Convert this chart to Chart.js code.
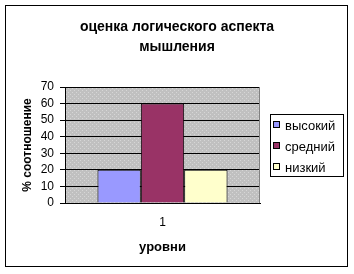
<!DOCTYPE html>
<html>
<head>
<meta charset="utf-8">
<script src="https://cdn.jsdelivr.net/npm/chart.js@4"></script>
<style>
  html, body { margin: 0; padding: 0; background: #fff; }
  #wrap { width: 354px; height: 274px; }
</style>
</head>
<body>
<div id="wrap"><canvas id="chart" width="354" height="274"></canvas></div>
<script>
// Chart data
const categories = ['1'];
const seriesNames = ['высокий', 'средний', 'низкий'];
const seriesValues = [[20], [60], [20]];
const seriesColors = ['#9999FF', '#993366', '#FFFFCC'];
const titleLines = ['оценка логического аспекта', 'мышления'];
const yTitle = '% соотношение';
const xTitle = 'уровни';

const FONT = 'Arial, "Liberation Sans", sans-serif';

// grey speckled plot background like the old office charts
function makePattern(ctx) {
    const c = document.createElement('canvas');
    c.width = 4; c.height = 4;
    const p = c.getContext('2d');
    p.fillStyle = '#c0c0c0';
    p.fillRect(0, 0, 4, 4);
    p.fillStyle = '#d6d6d6';
    p.fillRect(0, 0, 1, 1);
    p.fillRect(2, 2, 1, 1);
    return ctx.createPattern(c, 'repeat');
}

const framePlugin = {
    id: 'frame',
    beforeDraw(chart) {
        const ctx = chart.ctx;
        const a = chart.chartArea;
        ctx.save();
        ctx.fillStyle = '#fff';
        ctx.fillRect(0, 0, chart.width, chart.height);
        ctx.strokeStyle = '#000';
        ctx.lineWidth = 1;
        ctx.strokeRect(5.5, 5.5, 342, 261);
        ctx.fillStyle = makePattern(ctx);
        ctx.fillRect(a.left, a.top, a.right - a.left, a.bottom - a.top);
        ctx.restore();
    },
    afterDraw(chart) {
        const ctx = chart.ctx;
        const a = chart.chartArea;
        ctx.save();
        // plot border on the right
        ctx.strokeStyle = '#808080';
        ctx.lineWidth = 1;
        ctx.beginPath();
        ctx.moveTo(Math.round(a.right) - 0.5, a.top);
        ctx.lineTo(Math.round(a.right) - 0.5, a.bottom);
        ctx.stroke();

        // legend box
        const lx = 270, ly = 114, lw = 73, lh = 62;
        ctx.strokeStyle = '#000';
        ctx.strokeRect(lx + 0.5, ly + 0.5, lw, lh);
        ctx.font = '13px ' + FONT;
        ctx.textBaseline = 'middle';
        ctx.textAlign = 'left';
        chart.data.datasets.forEach((ds, i) => {
            const cy = 125 + i * 21;
            ctx.fillStyle = ds.backgroundColor;
            ctx.fillRect(lx + 3, cy - 4, 7, 7);
            ctx.strokeStyle = '#000';
            ctx.strokeRect(lx + 3.5, cy - 3.5, 6, 6);
            ctx.fillStyle = '#000';
            ctx.fillText(ds.label, lx + 15, cy + 1);
        });
        ctx.restore();
    }
};

const datasets = seriesNames.map((name, i) => ({
    label: name,
    data: seriesValues[i],
    backgroundColor: seriesColors[i],
    borderColor: '#000',
    borderWidth: 1,
    borderSkipped: 'bottom',
    categoryPercentage: 0.667,
    barPercentage: 1
}));

new Chart(document.getElementById('chart').getContext('2d'), {
    type: 'bar',
    data: { labels: categories, datasets: datasets },
    plugins: [framePlugin],
    options: {
        responsive: false,
        animation: false,
        devicePixelRatio: 1,
        layout: { padding: { left: 0, right: 0, top: 0, bottom: 19 } },
        plugins: {
            legend: { display: false },
            tooltip: { enabled: false },
            title: {
                display: true,
                text: titleLines,
                color: '#000',
                font: { family: FONT, size: 14, weight: 'bold', lineHeight: 1.43 },
                padding: { top: 17, bottom: 30 }
            }
        },
        scales: {
            x: {
                grid: { display: false, drawTicks: false },
                border: { display: true, color: '#000', width: 1 },
                ticks: { color: '#000', padding: 12, font: { family: FONT, size: 12 } },
                title: {
                    display: true,
                    text: xTitle,
                    color: '#000',
                    font: { family: FONT, size: 13, weight: 'bold' },
                    padding: { top: 4, bottom: 0 }
                },
                afterFit(scale) { scale.height = 274 - 203 - 19; }
            },
            y: {
                min: 0,
                max: 70,
                ticks: { stepSize: 10, autoSkip: false, color: '#000', padding: 6, font: { family: FONT, size: 12 } },
                grid: { color: '#000', lineWidth: 1, tickLength: 5, drawTicks: true },
                border: { display: true, color: '#000', width: 1 },
                title: {
                    display: true,
                    text: yTitle,
                    color: '#000',
                    font: { family: FONT, size: 12, weight: 'bold' },
                    padding: { top: 20, bottom: 0 }
                },
                afterFit(scale) { scale.width = 65; }
            },
            // empty right-hand axis that keeps room for the legend
            yRight: {
                position: 'right',
                display: true,
                min: 0,
                max: 70,
                ticks: { display: false },
                grid: { display: false },
                border: { display: false },
                afterFit(scale) { scale.width = 94; }
            }
        }
    }
});
</script>
</body>
</html>
